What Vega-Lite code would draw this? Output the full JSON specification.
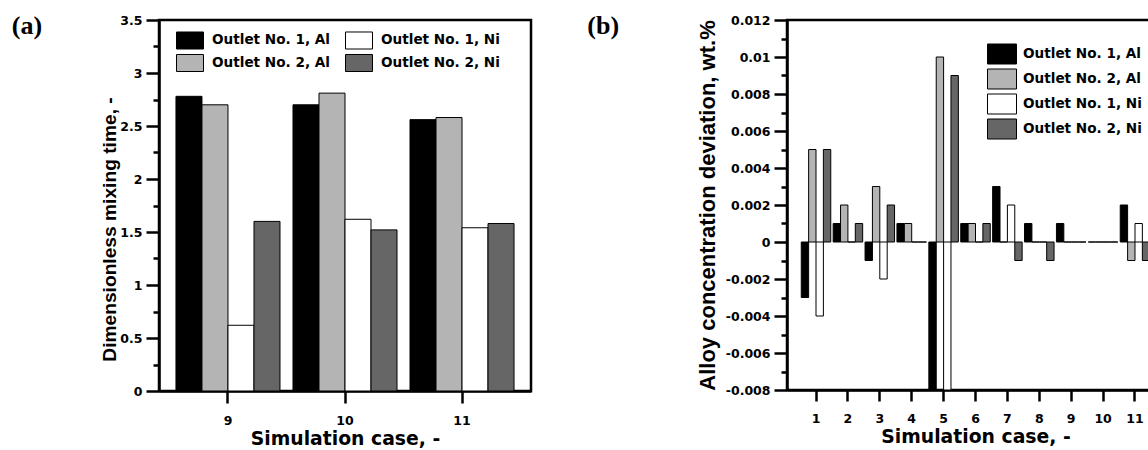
{
  "$schema": "https://vega.github.io/schema/vega-lite/v6.json",
  "padding": {"left": 10, "top": 11, "right": 0, "bottom": 0},
  "background": "white",
  "spacing": 53,
  "config": {
    "font": "Liberation Sans",
    "view": {"stroke": "black", "strokeWidth": 2.5},
    "axis": {
      "domainColor": "black", "domainWidth": 2.5, "tickColor": "black", "tickWidth": 2.5,
      "labelFont": "DejaVu Sans", "labelFontWeight": "bold", "labelColor": "black", "labelFontSize": 12.5,
      "titleFont": "DejaVu Sans", "titleFontWeight": "bold", "titleColor": "black", "titleFontSize": 18.8,
      "grid": false
    },
    "legend": {
      "labelFont": "DejaVu Sans", "labelFontWeight": "bold", "labelFontSize": 13.6, "labelColor": "black",
      "symbolStrokeColor": "black", "symbolStrokeWidth": 1, "labelLimit": 300
    },
    "title": {"font": "Liberation Serif", "fontSize": 26, "fontWeight": "bold", "color": "black"}
  },
  "hconcat": [
    {
      "width": 372, "height": 371,
      "title": {"text": "(a)", "anchor": "start", "frame": "bounds", "dx": -89, "dy": 29},
      "data": {"values": [
        {"case": 9, "series": "Outlet No. 1, Al", "value": 2.78},
        {"case": 9, "series": "Outlet No. 2, Al", "value": 2.70},
        {"case": 9, "series": "Outlet No. 1, Ni", "value": 0.62},
        {"case": 9, "series": "Outlet No. 2, Ni", "value": 1.60},
        {"case": 10, "series": "Outlet No. 1, Al", "value": 2.70},
        {"case": 10, "series": "Outlet No. 2, Al", "value": 2.81},
        {"case": 10, "series": "Outlet No. 1, Ni", "value": 1.62},
        {"case": 10, "series": "Outlet No. 2, Ni", "value": 1.52},
        {"case": 11, "series": "Outlet No. 1, Al", "value": 2.56},
        {"case": 11, "series": "Outlet No. 2, Al", "value": 2.58},
        {"case": 11, "series": "Outlet No. 1, Ni", "value": 1.54},
        {"case": 11, "series": "Outlet No. 2, Ni", "value": 1.58}
      ]},
      "layer": [
        {
          "mark": {"type": "bar", "opacity": 0},
          "encoding": {
            "x": {"field": "case", "type": "ordinal", "scale": {"paddingInner": 0.111, "paddingOuter": 0.145},
                  "axis": {"labelAngle": 0, "tickSize": 12, "labelPadding": 11, "title": "Simulation case, -", "titlePadding": 3}},
            "xOffset": {"field": "series", "scale": {"domain": ["Outlet No. 1, Al", "Outlet No. 2, Al", "Outlet No. 1, Ni", "Outlet No. 2, Ni"]}},
            "y": {"field": "value", "type": "quantitative", "scale": {"domain": [0, 3.5], "nice": false, "zero": true},
                  "axis": {"orient": "left", "values": [0.25, 0.75, 1.25, 1.75, 2.25, 2.75, 3.25], "labels": false, "domain": false, "tickSize": 6, "title": null}}
          }
        },
        {
          "mark": {"type": "bar", "stroke": "black", "strokeWidth": 1},
          "encoding": {
            "x": {"field": "case", "type": "ordinal", "scale": {"paddingInner": 0.111, "paddingOuter": 0.145},
                  "axis": {"labelAngle": 0, "tickSize": 12, "labelPadding": 11, "title": "Simulation case, -", "titlePadding": 3}},
            "xOffset": {"field": "series", "scale": {"domain": ["Outlet No. 1, Al", "Outlet No. 2, Al", "Outlet No. 1, Ni", "Outlet No. 2, Ni"]}},
            "y": {"field": "value", "type": "quantitative", "scale": {"domain": [0, 3.5], "nice": false, "zero": true},
                  "axis": {"orient": "left", "values": [0, 0.5, 1, 1.5, 2, 2.5, 3, 3.5], "format": ".1~f", "tickSize": 13, "labelPadding": 4,
                           "title": "Dimensionless mixing time, -", "titleFont": "Liberation Sans", "titleFontSize": 19.2, "titlePadding": 0, "titleY": 209}},
            "fill": {"field": "series", "type": "nominal",
                     "scale": {"domain": ["Outlet No. 1, Al", "Outlet No. 2, Al", "Outlet No. 1, Ni", "Outlet No. 2, Ni"],
                               "range": ["#000000", "#b4b4b4", "#ffffff", "#666666"]},
                     "legend": {"title": null, "orient": "none", "legendX": 19.5, "legendY": 8.5, "columns": 2,
                                "symbolType": "M-1.227,-0.773H1.227V0.773H-1.227Z", "symbolSize": 484, "rowPadding": 0, "columnPadding": 13, "labelOffset": 10.5}}
          }
        }
      ],
      "resolve": {"axis": {"y": "independent"}}
    },
    {
      "width": 377, "height": 370,
      "title": {"text": "(b)", "anchor": "start", "frame": "bounds", "dx": -109, "dy": 29},
      "data": {"values": [
        {"case": 1, "series": "Outlet No. 1, Al", "value": -0.003},
        {"case": 1, "series": "Outlet No. 2, Al", "value": 0.005},
        {"case": 1, "series": "Outlet No. 1, Ni", "value": -0.004},
        {"case": 1, "series": "Outlet No. 2, Ni", "value": 0.005},
        {"case": 2, "series": "Outlet No. 1, Al", "value": 0.001},
        {"case": 2, "series": "Outlet No. 2, Al", "value": 0.002},
        {"case": 2, "series": "Outlet No. 1, Ni", "value": 0},
        {"case": 2, "series": "Outlet No. 2, Ni", "value": 0.001},
        {"case": 3, "series": "Outlet No. 1, Al", "value": -0.001},
        {"case": 3, "series": "Outlet No. 2, Al", "value": 0.003},
        {"case": 3, "series": "Outlet No. 1, Ni", "value": -0.002},
        {"case": 3, "series": "Outlet No. 2, Ni", "value": 0.002},
        {"case": 4, "series": "Outlet No. 1, Al", "value": 0.001},
        {"case": 4, "series": "Outlet No. 2, Al", "value": 0.001},
        {"case": 4, "series": "Outlet No. 1, Ni", "value": 0},
        {"case": 4, "series": "Outlet No. 2, Ni", "value": 0},
        {"case": 5, "series": "Outlet No. 1, Al", "value": -0.008},
        {"case": 5, "series": "Outlet No. 2, Al", "value": 0.010},
        {"case": 5, "series": "Outlet No. 1, Ni", "value": -0.008},
        {"case": 5, "series": "Outlet No. 2, Ni", "value": 0.009},
        {"case": 6, "series": "Outlet No. 1, Al", "value": 0.001},
        {"case": 6, "series": "Outlet No. 2, Al", "value": 0.001},
        {"case": 6, "series": "Outlet No. 1, Ni", "value": 0},
        {"case": 6, "series": "Outlet No. 2, Ni", "value": 0.001},
        {"case": 7, "series": "Outlet No. 1, Al", "value": 0.003},
        {"case": 7, "series": "Outlet No. 2, Al", "value": 0},
        {"case": 7, "series": "Outlet No. 1, Ni", "value": 0.002},
        {"case": 7, "series": "Outlet No. 2, Ni", "value": -0.001},
        {"case": 8, "series": "Outlet No. 1, Al", "value": 0.001},
        {"case": 8, "series": "Outlet No. 2, Al", "value": 0},
        {"case": 8, "series": "Outlet No. 1, Ni", "value": 0},
        {"case": 8, "series": "Outlet No. 2, Ni", "value": -0.001},
        {"case": 9, "series": "Outlet No. 1, Al", "value": 0.001},
        {"case": 9, "series": "Outlet No. 2, Al", "value": 0},
        {"case": 9, "series": "Outlet No. 1, Ni", "value": 0},
        {"case": 9, "series": "Outlet No. 2, Ni", "value": 0},
        {"case": 10, "series": "Outlet No. 1, Al", "value": 0},
        {"case": 10, "series": "Outlet No. 2, Al", "value": 0},
        {"case": 10, "series": "Outlet No. 1, Ni", "value": 0},
        {"case": 10, "series": "Outlet No. 2, Ni", "value": 0},
        {"case": 11, "series": "Outlet No. 1, Al", "value": 0.002},
        {"case": 11, "series": "Outlet No. 2, Al", "value": -0.001},
        {"case": 11, "series": "Outlet No. 1, Ni", "value": 0.001},
        {"case": 11, "series": "Outlet No. 2, Ni", "value": -0.001}
      ]},
      "layer": [
        {
          "mark": {"type": "bar", "opacity": 0},
          "encoding": {
            "x": {"field": "case", "type": "ordinal", "scale": {"paddingInner": 0.075, "paddingOuter": 0.447},
                  "axis": {"labelAngle": 0, "tickSize": 11, "labelPadding": 11, "title": "Simulation case, -", "titlePadding": 3}},
            "xOffset": {"field": "series", "scale": {"domain": ["Outlet No. 1, Al", "Outlet No. 2, Al", "Outlet No. 1, Ni", "Outlet No. 2, Ni"]}},
            "y": {"field": "value", "type": "quantitative", "scale": {"domain": [-0.008, 0.012], "nice": false, "zero": false},
                  "axis": {"orient": "left", "values": [-0.007, -0.005, -0.003, -0.001, 0.001, 0.003, 0.005, 0.007, 0.009, 0.011], "labels": false, "domain": false, "tickSize": 6, "title": null}}
          }
        },
        {
          "mark": {"type": "bar", "stroke": "black", "strokeWidth": 1},
          "encoding": {
            "x": {"field": "case", "type": "ordinal", "scale": {"paddingInner": 0.075, "paddingOuter": 0.447},
                  "axis": {"labelAngle": 0, "tickSize": 11, "labelPadding": 11, "title": "Simulation case, -", "titlePadding": 3}},
            "xOffset": {"field": "series", "scale": {"domain": ["Outlet No. 1, Al", "Outlet No. 2, Al", "Outlet No. 1, Ni", "Outlet No. 2, Ni"]}},
            "y": {"field": "value", "type": "quantitative", "scale": {"domain": [-0.008, 0.012], "nice": false, "zero": false},
                  "axis": {"orient": "left", "values": [-0.008, -0.006, -0.004, -0.002, 0, 0.002, 0.004, 0.006, 0.008, 0.01, 0.012],
                           "labelExpr": "(datum.value < 0 ? '-' : '') + format(abs(datum.value), '.3~f')",
                           "tickSize": 13, "labelPadding": 4,
                           "title": "Alloy concentration deviation, wt.%", "titleFont": "Liberation Sans", "titleFontSize": 22, "titlePadding": 6}},
            "fill": {"field": "series", "type": "nominal",
                     "scale": {"domain": ["Outlet No. 1, Al", "Outlet No. 2, Al", "Outlet No. 1, Ni", "Outlet No. 2, Ni"],
                               "range": ["#000000", "#b4b4b4", "#ffffff", "#666666"]},
                     "legend": {"title": null, "orient": "none", "legendX": 204.5, "legendY": 23.5, "columns": 1,
                                "symbolType": "M-1.45,-1H1.45V1H-1.45Z", "symbolSize": 400, "rowPadding": 0, "labelOffset": 10.5}}
          }
        }
      ],
      "resolve": {"axis": {"y": "independent"}}
    }
  ],
  "resolve": {"scale": {"fill": "independent", "x": "independent", "y": "independent", "xOffset": "independent"}, "legend": {"fill": "independent"}}
}
